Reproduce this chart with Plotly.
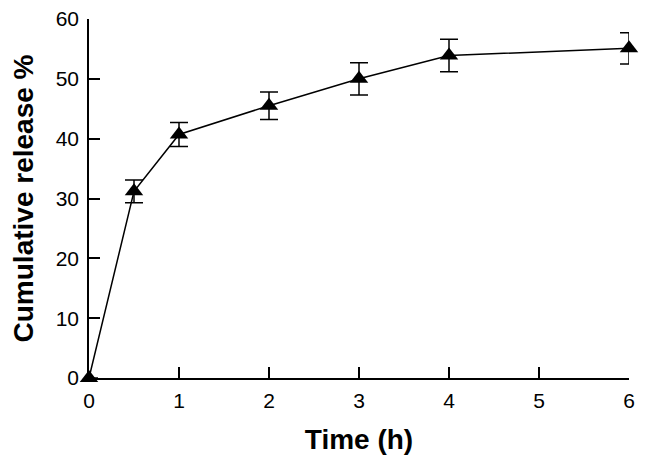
import plotly.graph_objects as go

time_h = [0, 0.5, 1, 2, 3, 4, 6]
release = [0, 31.2, 40.7, 45.5, 50.0, 53.9, 55.1]
err = [0, 1.9, 2.0, 2.3, 2.7, 2.7, 2.6]
x_ticks = [0, 1, 2, 3, 4, 5, 6]
y_ticks = [0, 10, 20, 30, 40, 50, 60]

fig = go.Figure()
fig.add_trace(go.Scatter(
    x=time_h, y=release, mode="lines+markers",
    line=dict(color="black", width=1.5),
    marker=dict(symbol="triangle-up", size=16, color="black"),
    error_y=dict(type="data", array=err, visible=True, color="black",
                 thickness=1.5, width=9),
    cliponaxis=False, showlegend=False,
))

font = "Liberation Sans, Arial, sans-serif"
fig.update_layout(
    width=651, height=465,
    margin=dict(l=81, r=30, t=11, b=95, autoexpand=False),
    paper_bgcolor="white", plot_bgcolor="white",
    font=dict(family=font, color="black", size=21),
    xaxis=dict(range=[0, 6], tickvals=x_ticks, ticks="inside", ticklen=11,
               tickwidth=1.5, tickcolor="black", showline=True, linecolor="black",
               linewidth=1.5, showgrid=False, zeroline=False, automargin=False,
               tickfont=dict(size=21), ticklabelstandoff=3,
               ticklabeloverflow="allow",
               title=dict(text="<b>Time (h)</b>", font=dict(size=28), standoff=18)),
    yaxis=dict(range=[0, 60], tickvals=y_ticks, ticks="inside", ticklen=11,
               tickwidth=1.5, tickcolor="black", showline=True, linecolor="black",
               linewidth=1.5, showgrid=False, zeroline=False, automargin=False,
               tickfont=dict(size=21), ticklabelstandoff=4,
               ticklabeloverflow="allow",
               title=dict(text="<b>Cumulative release %</b>", font=dict(size=28), standoff=16)),
)
fig.write_html("out.html")
